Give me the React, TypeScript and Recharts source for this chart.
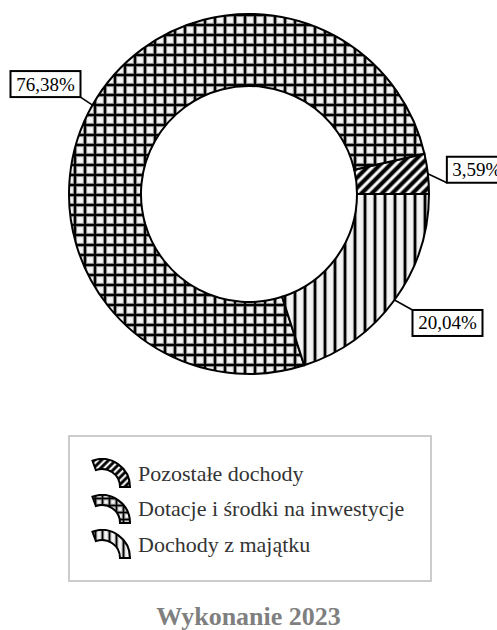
import React from "react";
import { PieChart, Pie, Cell, Legend } from "recharts";

const CATEGORIES = ["Pozostałe dochody", "Dotacje i środki na inwestycje", "Dochody z majątku"];
const SHARES = [3.59, 76.38, 20.04];
const PATTERNS = ["diag", "grid", "vert"];

// where each data label sits relative to the slice edge (Excel-style callouts)
const LABEL_OFFSETS = [
    { dx: 19, dy: 9, anchor: "bottom-left" },
    { dx: -12, dy: -8, anchor: "bottom-right" },
    { dx: 18, dy: 10, anchor: "top-left" },
];

const chartData = CATEGORIES.map((name, i) => ({ name, value: SHARES[i], pattern: PATTERNS[i] }));

const SERIF = '"Liberation Serif", "Times New Roman", serif';
const RADIAN = Math.PI / 180;

function PatternDefs({ suffix, step }: { suffix: string; step: number }) {
    const core = Math.max(1.5, step * 0.22);
    const halo = core + 2;
    const mid = step / 2;
    return (
        <>
            <pattern id={`vert${suffix}`} patternUnits="userSpaceOnUse" width={step} height={step}>
                <rect width={step} height={step} fill="#f4f4f4" />
                <rect x={mid - halo / 2} width={halo} height={step} fill="#9a9a9a" />
                <rect x={mid - core / 2} width={core} height={step} fill="#000" />
            </pattern>
            <pattern id={`grid${suffix}`} patternUnits="userSpaceOnUse" width={step} height={step}>
                <rect width={step} height={step} fill="#f4f4f4" />
                <rect x={mid - halo / 2} width={halo} height={step} fill="#9a9a9a" />
                <rect y={mid - halo / 2} height={halo} width={step} fill="#9a9a9a" />
                <rect x={mid - core / 2} width={core} height={step} fill="#000" />
                <rect y={mid - core / 2} height={core} width={step} fill="#000" />
            </pattern>
            <pattern id={`diag${suffix}`} patternUnits="userSpaceOnUse" width={step * 0.72} height={step} patternTransform="rotate(45)">
                <rect width={step * 0.72} height={step} fill="#fff" />
                <rect x={step * 0.36 - step * 0.25} width={step * 0.5} height={step} fill="#888" />
                <rect x={step * 0.36 - step * 0.17} width={step * 0.34} height={step} fill="#000" />
            </pattern>
        </>
    );
}

const renderLabel = (props: any) => {
    const { cx, cy, midAngle, outerRadius, index, value } = props;
    const ex = cx + outerRadius * Math.cos(-midAngle * RADIAN);
    const ey = cy + outerRadius * Math.sin(-midAngle * RADIAN);
    const off = LABEL_OFFSETS[index];
    const tx = ex + off.dx;
    const ty = ey + off.dy;
    const text = value.toFixed(2).replace(".", ",") + "%";
    const w = text.length * 10 + 10;
    const h = 26;
    const left = off.anchor.endsWith("right") ? tx - w : tx;
    const top = off.anchor.startsWith("bottom") ? ty - h : ty;
    return (
        <g key={`lbl-${index}`}>
            <line x1={ex} y1={ey} x2={tx} y2={ty} stroke="#000" strokeWidth={1.5} />
            <rect x={left} y={top} width={w} height={h} fill="#fff" stroke="#000" strokeWidth={2} />
            <text x={left + w / 2} y={top + 19.5} textAnchor="middle" fontFamily={SERIF} fontSize={19} fill="#000">
                {text}
            </text>
        </g>
    );
};

function LegendIcon({ pattern }: { pattern: string }) {
    // small ring segment, like the chart's slices
    const cx = 10, cy = 28, R = 28, r = 18;
    const a0 = 110 * RADIAN;
    const p = (rad: number, a: number) => `${cx + rad * Math.cos(a)},${cy - rad * Math.sin(a)}`;
    const d = `M${p(R, a0)} A${R},${R} 0 0 1 ${p(R, 0)} L${p(r, 0)} A${r},${r} 0 0 0 ${p(r, a0)} Z`;
    return (
        <svg width={42} height={31} viewBox="-2 -1 42 31" style={{ display: "block" }}>
            <path d={d} fill={`url(#${pattern}-s)`} stroke="#000" strokeWidth={2} />
        </svg>
    );
}

const renderLegend = () => (
    <div
        style={{
            width: 364,
            height: 147,
            boxSizing: "border-box",
            border: "2px solid #cccccc",
            paddingTop: 19,
            paddingLeft: 20,
        }}
    >
        {chartData.map((d) => (
            <div key={d.name} style={{ display: "flex", alignItems: "center", height: 35.5 }}>
                <LegendIcon pattern={d.pattern} />
                <span style={{ marginLeft: 6, fontFamily: SERIF, fontSize: 22, color: "#333", whiteSpace: "nowrap" }}>
                    {d.name}
                </span>
            </div>
        ))}
    </div>
);

export default function App() {
    return (
        <div style={{ position: "absolute", left: 0, top: 0, width: 497, height: 630, background: "#fff" }}>
            <svg width={0} height={0} style={{ position: "absolute" }}>
                <defs>
                    <PatternDefs suffix="" step={10} />
                    <PatternDefs suffix="-s" step={7} />
                </defs>
            </svg>
            <PieChart width={497} height={630} margin={{ top: 0, right: 0, bottom: 0, left: 0 }}>
                <Pie
                    data={chartData}
                    dataKey="value"
                    nameKey="name"
                    cx={249}
                    cy={194}
                    innerRadius={108}
                    outerRadius={180}
                    startAngle={0}
                    endAngle={360}
                    stroke="#000"
                    strokeWidth={2}
                    label={renderLabel}
                    labelLine={false}
                    isAnimationActive={false}
                >
                    {chartData.map((entry, index) => (
                        <Cell key={`cell-${index}`} fill={`url(#${entry.pattern})`} />
                    ))}
                </Pie>
                <Legend
                    content={renderLegend}
                    wrapperStyle={{ position: "absolute", left: 68, top: 435, width: 364, height: 147 }}
                />
            </PieChart>
            <div
                style={{
                    position: "absolute",
                    left: 0,
                    width: 497,
                    top: 604,
                    textAlign: "center",
                    fontFamily: SERIF,
                    fontWeight: "bold",
                    fontSize: 26,
                    color: "#7f7f7f",
                    lineHeight: "26px",
                }}
            >
                Wykonanie 2023
            </div>
        </div>
    );
}
